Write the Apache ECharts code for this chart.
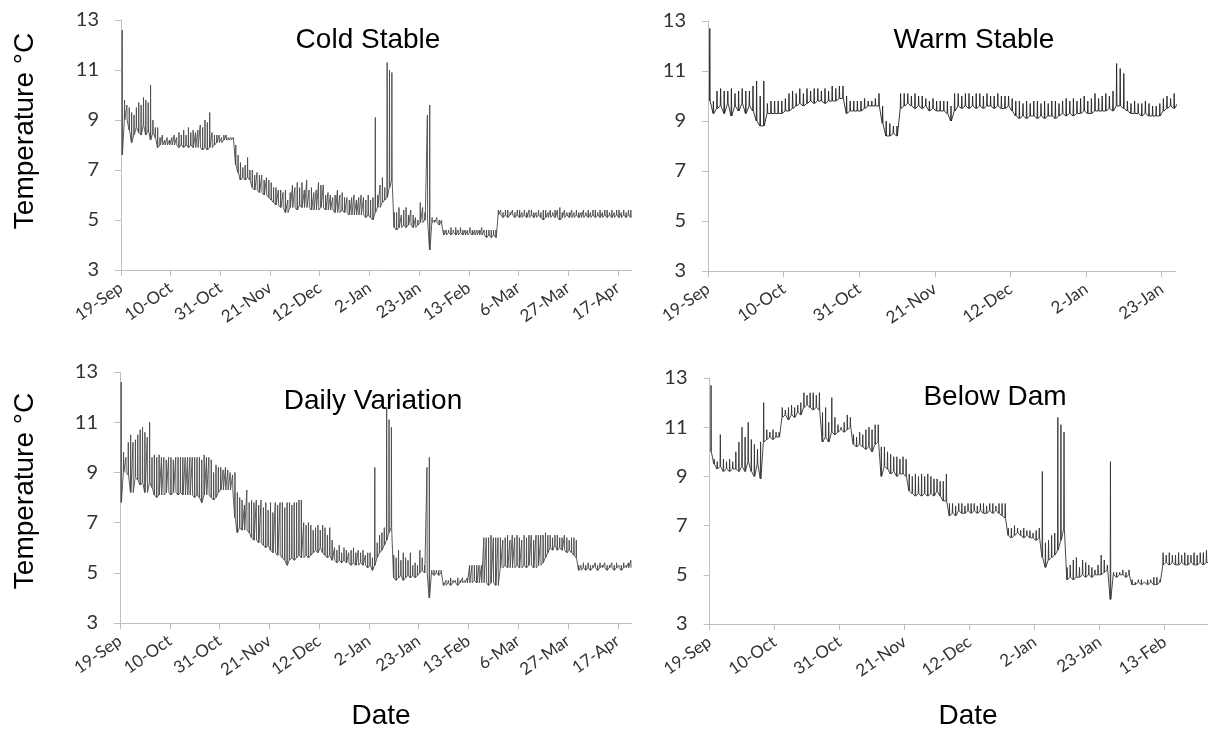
<!DOCTYPE html>
<html>
<head>
<meta charset="utf-8">
<script src="https://cdn.jsdelivr.net/npm/echarts@6/dist/echarts.min.js"></script>
<style>
html,body{margin:0;padding:0;background:#fff;}
#chart{width:1208px;height:733px;}
</style>
</head>
<body>
<div id="chart"></div>
<script>
// ---- tick labels (one every 21 days from 19-Sep) ----
const tickStepDays = 21;
const labelsLong = ["19-Sep","10-Oct","31-Oct","21-Nov","12-Dec","2-Jan","23-Jan","13-Feb","6-Mar","27-Mar","17-Apr"];
const labelsWarm = ["19-Sep","10-Oct","31-Oct","21-Nov","12-Dec","2-Jan","23-Jan"];
const labelsDam  = ["19-Sep","10-Oct","31-Oct","21-Nov","12-Dec","2-Jan","23-Jan","13-Feb"];
const yTicks = [3,5,7,9,11,13];

// ---- panel titles ----
const titles = ["Cold Stable","Warm Stable","Daily Variation","Below Dam"];

// ---- daily low / high temperatures (°C), day 0 = 19-Sep ----
const coldLow = [
7.6,9.0,9.0,8.6,8.1,8.4,8.7,8.5,8.4,8.8,8.4,8.6,8.2,8.5,8.3,
7.9,8.0,8.0,8.0,8.0,8.0,8.0,8.0,8.0,7.9,8.0,7.9,8.0,7.9,8.0,
7.9,7.9,7.9,7.9,7.8,7.9,7.8,7.9,7.9,8.0,8.1,8.1,8.1,8.2,8.2,
8.2,8.2,8.2,7.2,6.9,6.6,6.7,6.6,6.7,6.6,6.3,6.2,6.2,6.1,6.1,
6.0,6.0,5.9,5.8,5.7,5.6,5.6,5.5,5.5,5.3,5.3,5.5,5.5,5.5,5.4,
5.6,5.5,5.5,5.5,5.5,5.4,5.4,5.4,5.4,5.5,5.5,5.4,5.4,5.4,5.4,
5.3,5.3,5.3,5.4,5.3,5.3,5.2,5.2,5.2,5.2,5.2,5.2,5.2,5.1,5.2,
5.1,5.0,5.3,5.5,5.5,5.7,5.8,5.9,6.3,6.6,4.7,4.6,4.7,4.7,4.8,
4.7,4.8,4.8,4.7,4.7,4.8,4.9,4.9,5.0,5.0,3.8,4.9,4.9,4.9,4.8,
4.8,4.4,4.4,4.5,4.4,4.5,4.4,4.4,4.5,4.4,4.4,4.4,4.5,4.4,4.4,
4.4,4.4,4.4,4.4,4.3,4.4,4.3,4.4,4.3,5.2,5.2,5.1,5.2,5.1,5.2,
5.2,5.1,5.2,5.1,5.1,5.2,5.1,5.1,5.2,5.1,5.1,5.2,5.1,5.0,5.1,
5.1,5.1,5.2,5.1,5.1,5.0,5.1,5.1,5.2,5.1,5.1,5.1,5.2,5.1,5.1,
5.1,5.2,5.1,5.1,5.2,5.1,5.2,5.1,5.1,5.2,5.1,5.2,5.1,5.1,5.2,
5.1,5.1,5.2,5.1,5.2,5.1];
const coldHigh = [
12.6,9.8,9.6,9.5,9.3,9.2,9.5,9.7,9.6,9.9,9.8,9.7,10.4,9.0,8.7,
8.7,8.3,8.4,8.2,8.3,8.2,8.3,8.4,8.3,8.5,8.4,8.6,8.4,8.7,8.5,
8.6,8.5,8.6,8.8,8.7,9.0,8.9,9.3,8.5,8.4,8.4,8.4,8.3,8.4,8.4,
8.3,8.3,8.3,8.0,7.6,7.3,7.1,7.2,7.5,7.0,7.0,6.8,6.9,6.8,6.8,
6.6,6.7,6.6,6.5,6.3,6.3,6.2,6.2,6.1,6.2,5.8,6.1,6.4,6.3,6.5,
6.3,6.5,6.2,6.6,6.2,6.3,6.1,6.2,6.5,6.4,6.4,6.0,6.1,6.0,5.9,
6.0,6.2,6.0,6.1,5.9,5.9,5.8,5.9,6.0,5.8,5.9,6.0,5.9,5.8,6.0,
5.8,5.9,9.1,6.0,6.4,6.7,6.3,11.3,11.0,10.9,5.3,5.3,5.5,5.2,5.4,
5.5,5.2,5.4,5.2,5.1,5.0,5.7,5.5,5.3,9.2,9.6,5.1,5.0,5.1,5.0,
5.0,4.6,4.6,4.6,4.7,4.6,4.7,4.6,4.7,4.6,4.6,4.6,4.7,4.6,4.6,
4.6,4.6,4.7,4.6,4.6,4.6,4.6,4.6,4.6,5.4,5.4,5.3,5.4,5.4,5.3,
5.4,5.3,5.4,5.4,5.3,5.4,5.3,5.4,5.4,5.3,5.3,5.4,5.3,5.4,5.4,
5.3,5.4,5.3,5.4,5.4,5.5,5.3,5.4,5.3,5.3,5.4,5.3,5.4,5.3,5.3,
5.4,5.3,5.4,5.3,5.4,5.4,5.3,5.4,5.3,5.4,5.4,5.3,5.4,5.3,5.4,
5.4,5.3,5.4,5.3,5.4,5.4];

const warmLow = [
9.8,9.3,9.5,9.6,9.3,9.7,9.2,9.6,9.4,9.7,9.3,9.6,9.4,9.0,8.8,
8.8,9.3,9.3,9.3,9.3,9.3,9.4,9.4,9.5,9.6,9.7,9.6,9.7,9.8,9.7,
9.8,9.8,9.7,9.8,9.8,9.8,9.9,9.9,9.3,9.4,9.4,9.4,9.4,9.5,9.6,
9.6,9.6,9.6,8.9,8.4,8.4,8.5,8.4,9.5,9.6,9.7,9.6,9.5,9.6,9.5,
9.6,9.4,9.5,9.4,9.4,9.4,9.3,9.0,9.4,9.6,9.5,9.6,9.5,9.6,9.5,
9.6,9.5,9.6,9.6,9.5,9.6,9.5,9.5,9.6,9.4,9.2,9.1,9.2,9.1,9.2,
9.2,9.1,9.2,9.1,9.2,9.2,9.1,9.2,9.3,9.2,9.3,9.2,9.3,9.3,9.4,
9.3,9.3,9.4,9.4,9.4,9.4,9.5,9.4,9.6,9.6,9.5,9.4,9.3,9.3,9.3,
9.2,9.3,9.2,9.2,9.2,9.2,9.4,9.5,9.6,9.5,9.7];
const warmHigh = [
12.7,9.8,10.2,10.3,10.2,10.2,10.3,10.1,10.2,10.3,10.2,10.2,10.4,10.6,10.0,
10.6,9.7,9.8,9.8,9.8,9.8,9.9,10.1,10.2,10.1,10.3,10.1,10.3,10.2,10.3,
10.3,10.2,10.3,10.2,10.4,10.3,10.4,10.4,10.0,9.8,9.8,9.8,9.8,9.9,9.8,
9.8,9.9,10.1,9.6,9.0,8.9,8.8,8.8,10.1,10.1,10.1,10.0,10.1,10.0,10.0,
9.9,9.8,9.9,9.8,9.8,9.8,9.8,9.6,10.1,10.1,10.0,10.1,10.1,10.0,10.1,
10.1,10.0,10.1,10.0,10.0,10.1,10.0,10.0,10.0,9.9,9.8,9.8,9.7,9.8,9.7,
9.8,9.8,9.7,9.8,9.7,9.8,9.8,9.7,9.8,9.9,9.8,9.9,9.8,9.9,10.0,
9.8,9.9,10.1,9.9,10.0,10.1,10.0,10.2,11.3,11.1,10.9,9.8,9.7,9.8,9.7,
9.7,9.8,9.7,9.6,9.6,9.7,9.9,10.0,9.9,10.1,10.5];

const dailyLow = [
7.8,9.0,9.0,8.9,8.2,8.2,8.8,8.7,8.5,8.6,8.2,8.2,8.6,8.4,8.1,
8.0,8.1,8.1,8.1,8.2,8.2,8.1,8.2,8.2,8.1,8.2,8.1,8.1,8.1,8.1,
8.1,8.0,8.1,8.0,7.8,8.1,8.1,8.1,8.0,7.9,8.0,8.2,8.3,8.3,8.3,
8.3,8.3,8.3,7.2,6.6,6.8,6.7,6.7,6.7,6.6,6.4,6.3,6.3,6.2,6.2,
6.1,6.0,6.1,5.9,5.8,5.8,5.7,5.7,5.6,5.5,5.3,5.5,5.6,5.5,5.6,
5.7,5.6,5.6,5.7,5.6,5.7,5.8,5.9,5.8,6.0,5.8,5.7,5.6,5.7,5.5,
5.5,5.4,5.5,5.4,5.5,5.4,5.4,5.3,5.4,5.3,5.3,5.4,5.3,5.3,5.2,
5.3,5.1,5.3,5.6,5.8,5.9,6.1,6.3,6.6,6.8,4.8,4.7,4.8,4.9,4.7,
4.8,4.9,4.8,4.9,4.8,4.9,5.0,5.1,5.0,5.0,4.0,5.0,4.9,5.0,4.9,
5.0,4.5,4.5,4.6,4.5,4.6,4.6,4.5,4.6,4.6,4.6,4.6,4.6,4.6,4.7,
4.6,4.6,4.6,4.6,4.6,4.5,4.6,4.6,4.5,4.5,5.2,5.2,5.3,5.2,5.2,
5.2,5.2,5.3,5.2,5.2,5.3,5.2,5.3,5.3,5.2,5.2,5.3,5.3,5.4,5.6,
5.8,6.0,5.9,6.1,5.9,6.0,5.9,5.9,5.8,5.9,5.8,5.7,5.6,5.1,5.1,
5.2,5.1,5.2,5.1,5.2,5.2,5.1,5.2,5.2,5.2,5.1,5.2,5.2,5.1,5.2,
5.2,5.1,5.2,5.2,5.2,5.2];
const dailyHigh = [
12.6,9.8,9.6,10.2,10.5,10.2,10.3,10.5,10.7,10.8,10.6,10.4,11.0,9.6,9.7,
9.6,9.7,9.6,9.6,9.5,9.6,9.6,9.5,9.6,9.6,9.6,9.6,9.6,9.6,9.6,
9.6,9.6,9.6,9.6,9.5,9.7,9.6,9.6,9.5,9.0,9.3,9.2,9.2,9.1,9.2,
9.1,9.0,8.9,9.0,8.2,8.0,7.9,7.7,8.3,7.8,7.9,7.8,7.9,7.7,7.9,
7.6,7.8,7.5,7.8,7.4,7.8,7.7,7.8,7.8,7.6,7.8,7.8,7.7,7.8,7.8,
7.9,7.9,7.0,6.9,7.0,6.9,6.7,6.8,6.9,6.7,6.9,6.8,6.5,6.8,6.3,
6.0,5.9,6.1,5.8,6.0,5.9,5.8,5.9,6.0,5.8,5.9,5.8,5.9,5.7,5.8,
5.8,5.6,9.2,6.2,6.5,6.6,6.8,11.6,11.1,10.8,5.7,5.6,5.9,5.5,5.8,
5.6,5.5,5.8,5.3,5.4,5.3,5.9,5.6,5.3,9.2,9.6,5.1,5.1,5.1,5.1,
5.1,4.6,4.7,4.7,4.8,4.7,4.7,4.8,4.7,4.8,4.7,4.8,5.3,5.3,5.3,
5.3,5.3,5.3,6.4,6.4,6.4,6.5,6.4,6.4,6.4,6.4,6.3,6.4,6.5,6.3,
6.5,6.4,6.5,6.4,6.3,6.5,6.4,6.5,6.5,6.3,6.5,6.5,6.5,6.5,6.6,
6.5,6.5,6.4,6.5,6.5,6.4,6.4,6.5,6.4,6.3,6.4,6.4,6.3,5.3,5.3,
5.4,5.3,5.4,5.3,5.3,5.4,5.3,5.4,5.3,5.4,5.3,5.3,5.4,5.3,5.4,
5.3,5.3,5.4,5.3,5.4,5.5];

const damLow = [
10.0,9.5,9.3,9.4,9.2,9.3,9.2,9.3,9.3,9.2,9.4,9.2,9.6,9.2,9.0,
9.5,8.9,10.4,10.5,10.6,10.5,10.6,10.6,11.4,11.5,11.3,11.5,11.4,11.6,11.5,
11.8,11.9,11.8,11.7,11.8,11.7,10.4,10.6,10.4,10.8,10.7,10.8,10.9,10.8,10.9,
11.0,10.3,10.2,10.3,10.2,10.1,10.2,10.0,10.3,10.4,9.0,9.4,9.3,9.1,9.2,
9.0,9.1,9.1,9.0,8.4,8.3,8.2,8.3,8.2,8.3,8.2,8.3,8.2,8.4,8.2,
8.0,8.0,7.4,7.5,7.4,7.6,7.5,7.5,7.6,7.5,7.6,7.5,7.6,7.5,7.5,
7.6,7.5,7.6,7.5,7.4,7.3,6.6,6.5,6.6,6.7,6.6,6.5,6.6,6.5,6.5,
6.4,6.5,5.7,5.3,5.6,5.7,5.8,6.0,6.4,6.9,4.8,4.9,4.8,4.9,4.9,
5.0,4.9,5.0,4.9,5.0,5.0,5.0,5.1,5.2,4.0,5.0,4.9,5.0,5.0,4.9,
5.0,4.6,4.6,4.7,4.6,4.7,4.6,4.7,4.6,4.6,4.7,5.4,5.5,5.4,5.5,
5.4,5.4,5.5,5.4,5.4,5.5,5.4,5.4,5.5,5.4,5.5,5.5];
const damHigh = [
12.7,9.7,9.6,10.7,9.7,9.6,9.7,9.6,10.0,10.4,11.0,10.6,11.2,10.5,10.3,
10.1,10.4,12.0,10.9,10.8,10.9,10.8,10.8,11.8,11.7,11.8,11.9,11.8,11.9,12.0,
12.4,12.3,12.4,12.4,12.3,12.4,11.6,11.8,11.2,12.2,11.4,11.1,11.0,11.2,11.5,
11.4,10.7,10.6,10.8,10.7,10.9,11.0,10.9,11.1,11.1,10.2,10.2,10.0,9.9,9.8,
9.8,9.7,9.8,9.7,9.1,9.0,9.1,9.0,9.1,9.0,9.1,9.0,8.9,8.9,8.8,
8.8,9.1,7.9,7.9,7.8,7.9,7.9,7.8,7.9,7.9,7.9,7.8,7.9,7.9,7.8,
7.9,7.9,7.8,7.9,7.9,7.9,6.9,6.9,7.0,6.9,6.8,6.9,6.8,6.8,6.7,
6.8,6.9,9.2,6.3,6.4,6.6,6.7,11.4,11.1,10.8,5.3,5.4,5.6,5.7,5.3,
5.6,5.5,5.4,5.3,5.2,5.4,5.8,5.6,5.4,9.6,5.1,5.1,5.1,5.2,5.1,
5.2,4.8,4.7,4.8,4.8,4.7,4.8,4.8,4.9,4.9,4.8,5.9,5.8,5.9,5.8,
5.8,5.9,5.8,5.9,5.8,5.8,5.9,5.8,5.9,5.9,6.0,5.9];

// ---- build a line path: each day a baseline at the low with a spike to the high ----
function dailyPath(low, high) {
  const pts = [];
  for (let i = 0; i < low.length; i++) {
    pts.push([i + 0.4, low[i]]);
    pts.push([i + 0.5, high[i]]);
    pts.push([i + 0.6, low[i]]);
  }
  return pts;
}

const panels = [
  {low: coldLow,  high: coldHigh,  labels: labelsLong, maxDay: 216, col: '#4a4a4a', grid: {left: 121, top: 20,  width: 511,   height: 250}},
  {low: warmLow,  high: warmHigh,  labels: labelsWarm, maxDay: 130, col: '#222222', grid: {left: 708, top: 21,  width: 468,   height: 250}},
  {low: dailyLow, high: dailyHigh, labels: labelsLong, maxDay: 216, col: '#4a4a4a', grid: {left: 120, top: 372, width: 512,   height: 251}},
  {low: damLow,   high: damHigh,   labels: labelsDam,  maxDay: 161, col: '#333333', grid: {left: 709.5, top: 378, width: 498.5, height: 246}}
];

const axisGray = '#bfbfbf';
const textCol = '#333333';

const option = {
  animation: false,
  backgroundColor: '#ffffff',
  grid: panels.map(p => Object.assign({containLabel: false}, p.grid)),
  xAxis: panels.map((p, gi) => {
    const tv = p.labels.map((_, k) => k * tickStepDays);
    return {
      type: 'value', gridIndex: gi, min: 0, max: p.maxDay,
      axisLine: {show: true, onZero: false, lineStyle: {color: axisGray, width: 1}},
      axisTick: {show: true, length: 6, customValues: tv, lineStyle: {color: axisGray}},
      axisLabel: {customValues: tv, formatter: v => p.labels[Math.round(v / tickStepDays)] || '',
                  rotate: 35, margin: 16, fontFamily: 'Lato', fontSize: 17, color: textCol},
      splitLine: {show: false}
    };
  }),
  yAxis: panels.map((p, gi) => ({
    type: 'value', gridIndex: gi, min: 3, max: 13,
    axisLine: {show: true, onZero: false, lineStyle: {color: axisGray, width: 1}},
    axisTick: {show: true, length: 6, customValues: yTicks, lineStyle: {color: axisGray}},
    axisLabel: {customValues: yTicks, margin: 22, fontFamily: 'Lato', fontSize: 20, color: textCol},
    splitLine: {show: false}
  })),
  series: panels.map((p, gi) => ({
    type: 'line', xAxisIndex: gi, yAxisIndex: gi,
    data: dailyPath(p.low, p.high),
    showSymbol: false, symbol: 'none', silent: true,
    lineStyle: {color: p.col, width: 0.9}
  })),
  graphic: [
    {type: 'text', x: 368, y: 40,  style: {text: titles[0], font: '28px "Liberation Sans"', fill: '#000', align: 'center', verticalAlign: 'middle'}},
    {type: 'text', x: 974, y: 40,  style: {text: titles[1], font: '28px "Liberation Sans"', fill: '#000', align: 'center', verticalAlign: 'middle'}},
    {type: 'text', x: 373, y: 401, style: {text: titles[2], font: '28px "Liberation Sans"', fill: '#000', align: 'center', verticalAlign: 'middle'}},
    {type: 'text', x: 995, y: 397, style: {text: titles[3], font: '28px "Liberation Sans"', fill: '#000', align: 'center', verticalAlign: 'middle'}},
    {type: 'text', x: 25, y: 131, rotation: Math.PI / 2, style: {text: 'Temperature °C', font: '28px "Liberation Sans"', fill: '#000', align: 'center', verticalAlign: 'middle'}},
    {type: 'text', x: 25, y: 491, rotation: Math.PI / 2, style: {text: 'Temperature °C', font: '28px "Liberation Sans"', fill: '#000', align: 'center', verticalAlign: 'middle'}},
    {type: 'text', x: 381, y: 716, style: {text: 'Date', font: '28px "Liberation Sans"', fill: '#000', align: 'center', verticalAlign: 'middle'}},
    {type: 'text', x: 968, y: 716, style: {text: 'Date', font: '28px "Liberation Sans"', fill: '#000', align: 'center', verticalAlign: 'middle'}}
  ]
};

const chart = echarts.init(document.getElementById('chart'), null, {renderer: 'canvas'});
chart.setOption(option);
</script>
</body>
</html>
